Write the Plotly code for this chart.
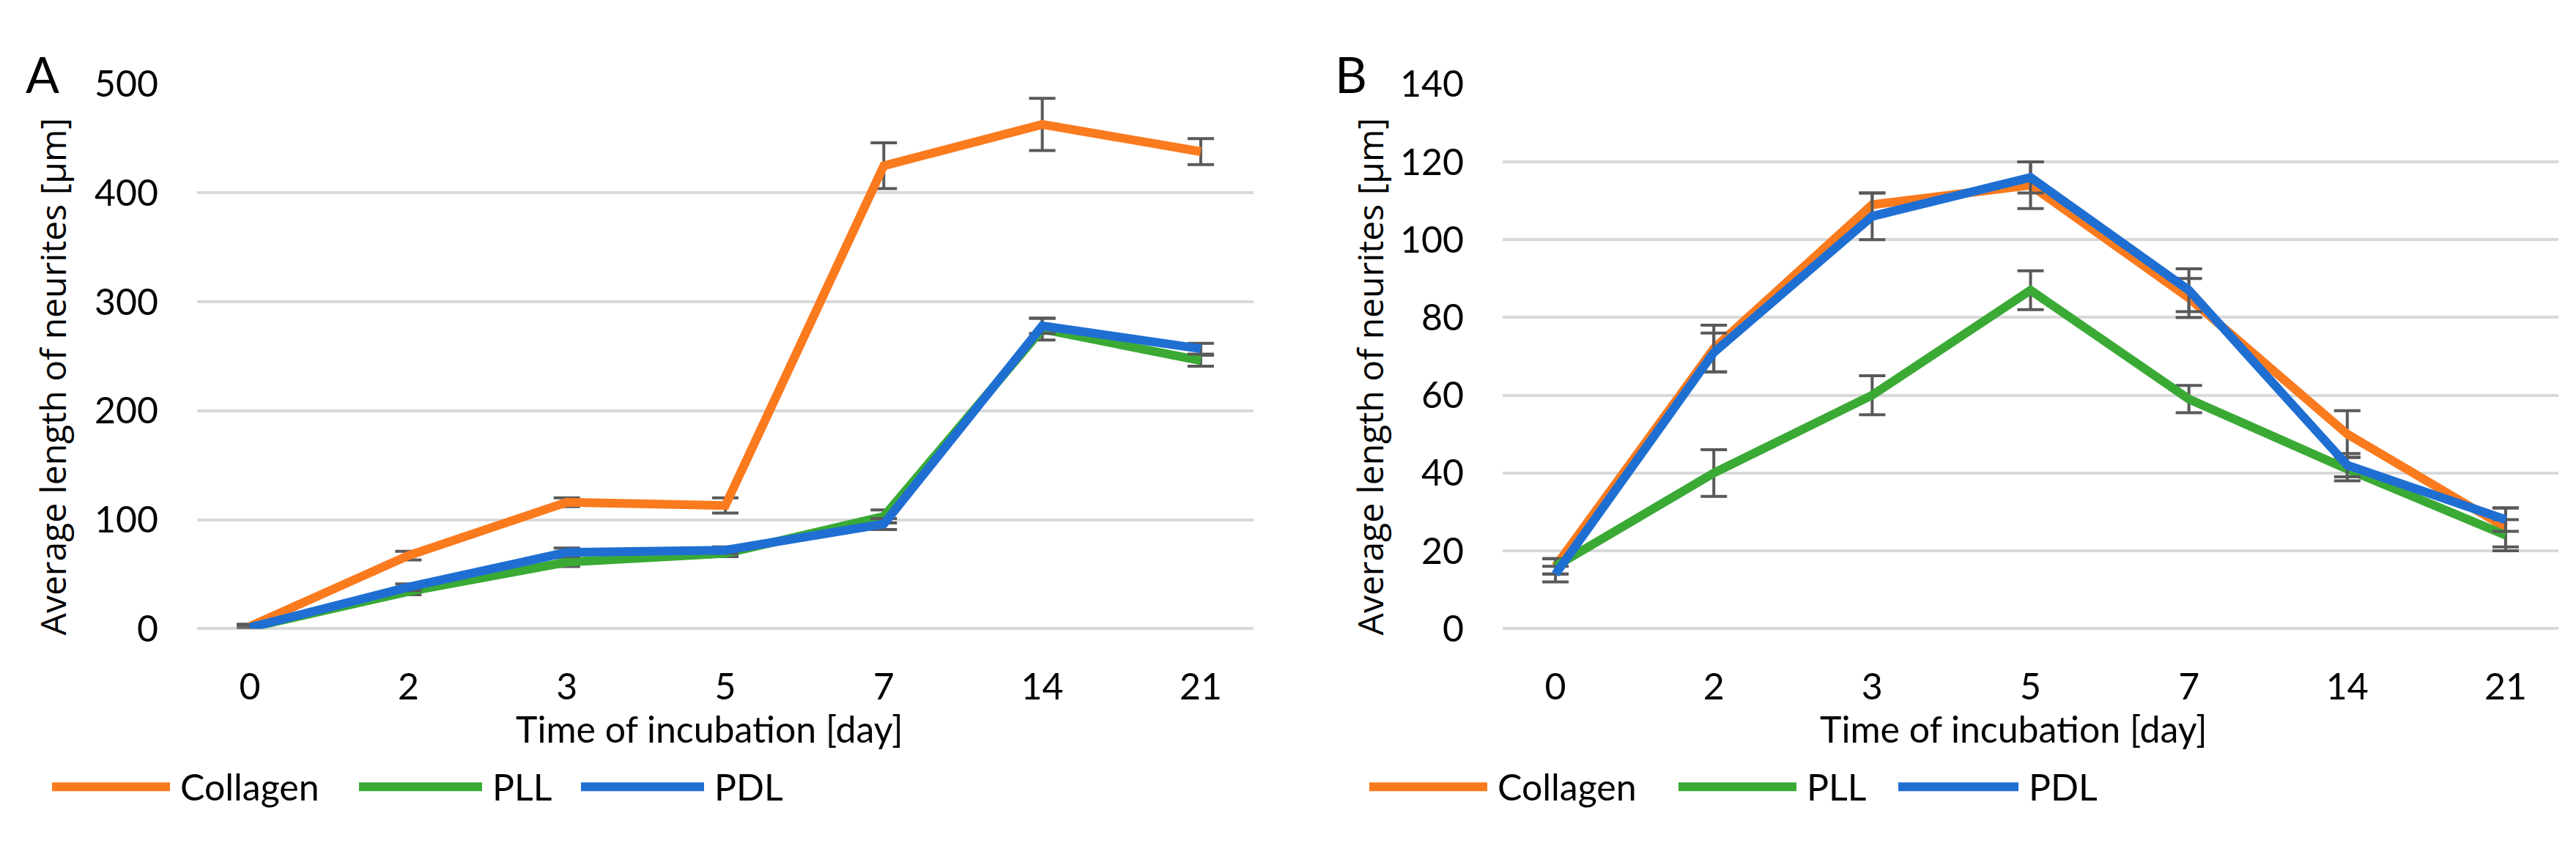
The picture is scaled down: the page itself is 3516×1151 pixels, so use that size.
import plotly.graph_objects as go
from plotly.subplots import make_subplots

# incubation days (categories on the x axis)
days = ["0", "2", "3", "5", "7", "14", "21"]
series = ["Collagen", "PLL", "PDL"]
colors = ["#FA7A1E", "#3AAA35", "#1F6FD3"]

# panel A - average neurite length [um]
a_collagen = [2, 67, 116, 113, 425, 463, 438]
a_collagen_err = [2, 4, 4, 7, 21, 24, 12]
a_pll = [1, 34, 61, 69, 103, 275, 246]
a_pll_err = [2, 3, 4, 3, 6, 10, 5]
a_pdl = [1, 38, 70, 72, 96, 278, 257]
a_pdl_err = [2, 3, 4, 3, 5, 7, 5]

# panel B - average neurite length [um]
b_collagen = [16, 72, 109, 114, 85, 50, 26]
b_collagen_err = [2, 6, 3, 6, 5, 6, 5]
b_pll = [16, 40, 60, 87, 59, 41, 24]
b_pll_err = [2, 6, 5, 5, 3.5, 3, 4]
b_pdl = [14, 71, 106, 116, 87, 42, 28]
b_pdl_err = [2, 5, 6, 4, 5.5, 3, 3]

W, H = 3516, 1151
FONT = "Lato, Liberation Sans, sans-serif"
TITLE_FONT = "Open Sans, DejaVu Sans, sans-serif"


def px(x):
    return x / W


def py(y):
    return 1 - y / H


fig = make_subplots(rows=1, cols=2)

panels = [
    (1, [a_collagen, a_pll, a_pdl], [a_collagen_err, a_pll_err, a_pdl_err]),
    (2, [b_collagen, b_pll, b_pdl], [b_collagen_err, b_pll_err, b_pdl_err]),
]
for col, values, errors in panels:
    for name, color, v, e in zip(series, colors, values, errors):
        fig.add_trace(go.Scatter(x=days, y=v, name=name, mode="lines",
                                 line=dict(color=color, width=12),
                                 error_y=dict(type="data", array=e, color="#595959",
                                              thickness=4, width=18),
                                 showlegend=False),
                      1, col)

y_common = dict(showgrid=True, gridcolor="#D9D9D9", gridwidth=4,
                zeroline=True, zerolinecolor="#D9D9D9", zerolinewidth=4,
                showline=False, ticks="", ticklabelstandoff=52,
                tickfont=dict(family=FONT, size=50, color="#000000"))
x_common = dict(type="category", showgrid=False, zeroline=False, showline=False,
                ticks="", ticklabelstandoff=46,
                tickfont=dict(family=FONT, size=50, color="#000000"))

fig.update_layout(
    width=W, height=H,
    margin=dict(l=0, r=0, t=0, b=0),
    paper_bgcolor="white", plot_bgcolor="white",
    xaxis=dict(domain=[px(261), px(1703)], **x_common),
    xaxis2=dict(domain=[px(2043), px(3484)], **x_common),
    yaxis=dict(domain=[py(864), py(79)], range=[0, 500], dtick=100, **y_common),
    yaxis2=dict(domain=[py(864), py(79)], range=[0, 140], dtick=20, **y_common),
)

annotations = []
shapes = []
# per-panel layout: letter x, y-title x, x-title centre, legend (line x0, x1, text x)
panel_layout = [
    ("A", 25, 63, 960, [(63, 224, 236), (482, 650, 662), (785, 953, 965)]),
    ("B", 1812, 1861, 2740, [(1861, 2022, 2034), (2283, 2444, 2456), (2583, 2747, 2759)]),
]
for label, lx, tx, xmid, legend in panel_layout:
    annotations.append(dict(text=label, x=px(lx), y=py(64),
                            xref="paper", yref="paper", xanchor="left", yanchor="middle",
                            showarrow=False, font=dict(family=FONT, size=68, color="black")))
    annotations.append(dict(text="Average length of neurites [µm]", textangle=-90,
                            x=px(tx), y=py(501), xref="paper", yref="paper",
                            xanchor="center", yanchor="middle", showarrow=False,
                            font=dict(family=TITLE_FONT, size=48, color="black")))
    annotations.append(dict(text="Time of incubation [day]", x=px(xmid), y=py(1008),
                            xref="paper", yref="paper", xanchor="center", yanchor="middle",
                            showarrow=False, font=dict(family=FONT, size=50, color="black")))
    # legend under each panel
    for name, color, (x0, x1, xt) in zip(series, colors, legend):
        shapes.append(dict(type="line", xref="paper", yref="paper",
                           x0=px(x0), x1=px(x1), y0=py(1092), y1=py(1092),
                           line=dict(color=color, width=12)))
        annotations.append(dict(text=name, x=px(xt), y=py(1092), xref="paper",
                                yref="paper", xanchor="left", yanchor="middle",
                                showarrow=False,
                                font=dict(family=FONT, size=50, color="black")))

fig.update_layout(annotations=annotations, shapes=shapes)
fig.write_html("out.html")
